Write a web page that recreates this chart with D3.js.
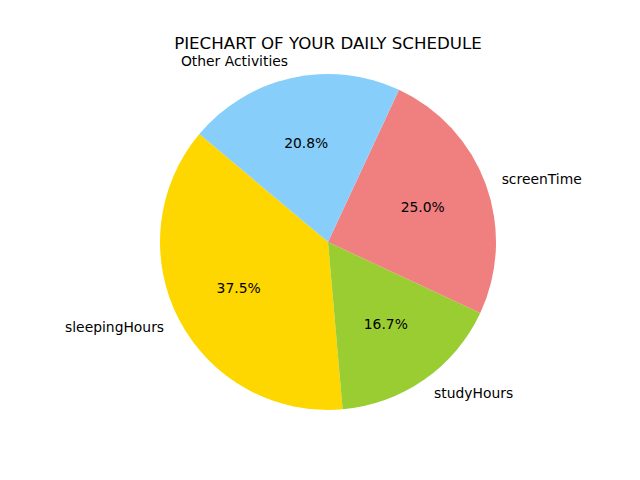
<!DOCTYPE html>
<html><head><meta charset="utf-8">
<script src="https://cdn.jsdelivr.net/npm/d3@7"></script>
<style>body{margin:0;background:#fff}</style>
</head><body>
<svg id="c" width="640" height="480"></svg>
<script>
const categories = ["sleepingHours", "studyHours", "screenTime", "Other Activities"];
const values = [9, 4, 6, 5];
const colors = ["#FFD700", "#9ACD32", "#F08080", "#87CEFA"];
const title = "PIECHART OF YOUR DAILY SCHEDULE";

const cx = 328, cy = 242, r = 168, startDeg = 140;
const svg = d3.select("#c");
svg.append("rect").attr("width",640).attr("height",480).attr("fill","#fff");
const g = svg.append("g").attr("transform",`translate(${cx},${cy})`);
const toRad = d => d*Math.PI/180;
const pie = d3.pie().sort(null)
  .startAngle(toRad(90-startDeg)).endAngle(toRad(90-startDeg-360));
const arcs = pie(values);
const arc = d3.arc().innerRadius(0).outerRadius(r);
const total = d3.sum(values);
g.selectAll("path.w").data(arcs).enter().append("path")
  .attr("d", arc).attr("fill",(d,i)=>colors[i]);
const font = "DejaVu Sans, sans-serif";
arcs.forEach((d,i)=>{
  const mid = (d.startAngle+d.endAngle)/2; // d3 angle
  const x = Math.sin(mid), y = -Math.cos(mid);
  g.append("text").attr("x", 1.1*r*x).attr("y", 1.1*r*y)
    .attr("dy","0.35em").attr("text-anchor", x>0?"start":"end")
    .attr("font-family",font).attr("font-size","13.89px").attr("fill","#000")
    .text(categories[i]);
  g.append("text").attr("x", 0.6*r*x).attr("y", 0.6*r*y)
    .attr("dy","0.35em").attr("text-anchor","middle")
    .attr("font-family",font).attr("font-size","13.89px").attr("fill","#000")
    .text((values[i]/total*100).toFixed(1)+"%");
});
svg.append("text").attr("x",328).attr("y",49).attr("text-anchor","middle")
  .attr("font-family",font).attr("font-size","16.67px").attr("fill","#000").text(title);
</script>
</body></html>
